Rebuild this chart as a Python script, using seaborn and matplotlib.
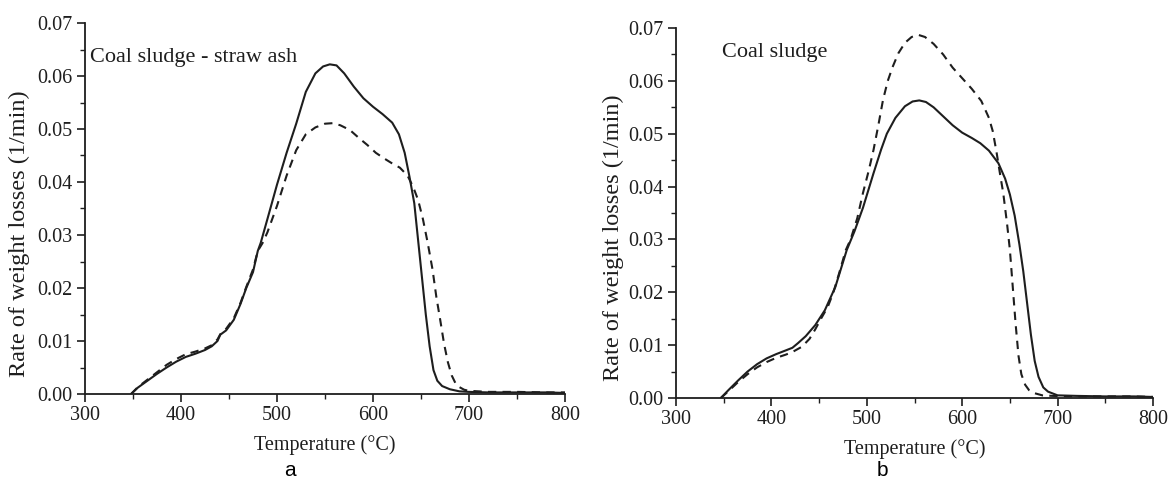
import matplotlib
matplotlib.use("Agg")
import matplotlib.pyplot as plt
import seaborn as sns
import pandas as pd
from matplotlib.ticker import MultipleLocator, FormatStrFormatter

# ---------------- data ----------------
temp_a_solid = [348, 355, 365, 375, 385, 395, 405, 415, 425, 432, 438, 441, 447, 455, 462, 468,
                475, 480, 483, 490, 500, 510, 520, 530, 540, 548, 555, 562, 570, 580, 590, 600,
                610, 620, 627, 633, 638, 643, 647, 651, 655, 659, 663, 667, 672, 680, 690, 700,
                720, 750, 780, 800]
rate_a_solid = [0.0, 0.0012, 0.0025, 0.0038, 0.0050, 0.0061, 0.0070, 0.0076, 0.0083, 0.0090, 0.0100,
                0.0112, 0.0120, 0.0140, 0.0170, 0.0200, 0.0230, 0.0270, 0.0285, 0.0330, 0.0395,
                0.0455, 0.0510, 0.0570, 0.0605, 0.0618, 0.0622, 0.0620, 0.0605, 0.0580, 0.0558,
                0.0542, 0.0528, 0.0512, 0.0490, 0.0455, 0.0410, 0.0360, 0.0290, 0.0220, 0.0150,
                0.0090, 0.0045, 0.0025, 0.0015, 0.0009, 0.0005, 0.0004, 0.0003, 0.0003, 0.0003,
                0.0002]

temp_a_dash = [348, 355, 365, 375, 385, 395, 405, 415, 425, 432, 438, 441, 447, 455, 462, 468,
               475, 480, 485, 490, 500, 510, 520, 530, 540, 550, 558, 566, 576, 586, 594, 603,
               612, 620, 628, 636, 642, 647, 652, 657, 662, 666, 670, 674, 678, 682, 686, 690,
               695, 700, 720, 750, 780, 800]
rate_a_dash = [0.0, 0.0013, 0.0027, 0.0041, 0.0055, 0.0066, 0.0075, 0.0080, 0.0086, 0.0092, 0.0103,
               0.0113, 0.0123, 0.0143, 0.0172, 0.0202, 0.0235, 0.0270, 0.0285, 0.0305, 0.0355,
               0.0412, 0.0460, 0.0490, 0.0503, 0.0510, 0.0511, 0.0507, 0.0498, 0.0482, 0.0470,
               0.0455, 0.0444, 0.0435, 0.0427, 0.0412, 0.0390, 0.0366, 0.0330, 0.0285, 0.0235,
               0.0183, 0.0140, 0.0095, 0.0060, 0.0035, 0.0020, 0.0013, 0.0008, 0.0006, 0.0004,
               0.0004, 0.0003, 0.0003]

temp_b_solid = [347, 355, 365, 375, 385, 395, 405, 415, 422, 428, 436, 446, 456, 467, 479, 487,
                496, 507, 515, 521, 530, 540, 548, 555, 562, 570, 580, 590, 600, 610, 619, 628,
                638, 645, 650, 655, 660, 664, 668, 672, 676, 680, 685, 690, 700, 720, 750, 780,
                800]
rate_b_solid = [0.0, 0.0015, 0.0033, 0.0050, 0.0064, 0.0075, 0.0083, 0.0090, 0.0095, 0.0104, 0.0117,
                0.0138, 0.0166, 0.0210, 0.0280, 0.0315, 0.0360, 0.0425, 0.0470, 0.0500, 0.0530,
                0.0552, 0.0561, 0.0563, 0.0560, 0.0550, 0.0533, 0.0516, 0.0502, 0.0492, 0.0482,
                0.0468, 0.0444, 0.0415, 0.0385, 0.0345, 0.0290, 0.0240, 0.0180, 0.0120, 0.0070,
                0.0040, 0.0020, 0.0012, 0.0005, 0.0004, 0.0003, 0.0003, 0.0002]

temp_b_dash = [347, 355, 365, 375, 385, 395, 405, 415, 422, 432, 440, 446, 452, 459, 465, 471,
               478, 483, 490, 496, 502, 507, 512, 517, 522, 527, 533, 540, 547, 554, 561, 570,
               580, 590, 600, 610, 620, 628, 632, 636, 640, 643, 647, 650, 653, 656, 659, 662,
               666, 670, 676, 684, 695, 720, 750, 780, 800]
rate_b_dash = [0.0, 0.0013, 0.0030, 0.0045, 0.0058, 0.0068, 0.0076, 0.0082, 0.0087, 0.0097, 0.0112,
               0.0130, 0.0150, 0.0172, 0.0200, 0.0236, 0.0280, 0.0300, 0.0340, 0.0388, 0.0430,
               0.0469, 0.0515, 0.0564, 0.0600, 0.0626, 0.0652, 0.0672, 0.0683, 0.0687, 0.0683,
               0.0670, 0.0650, 0.0625, 0.0605, 0.0585, 0.0562, 0.0530, 0.0505, 0.0465, 0.0420,
               0.0388, 0.0330, 0.0280, 0.0210, 0.0140, 0.0080, 0.0045, 0.0025, 0.0015, 0.0009,
               0.0005, 0.0004, 0.0003, 0.0003, 0.0003, 0.0002]

panel_titles = ["Coal sludge - straw ash", "Coal sludge"]
panel_letters = ["a", "b"]
x_label = "Temperature (\u00b0C)"
y_label = "Rate of weight losses (1/min)"

# ---------------- style ----------------
sns.set_theme(style="ticks")
plt.rcParams["font.family"] = ["Liberation Serif", "DejaVu Serif"]
plt.rcParams["axes.linewidth"] = 1.3
plt.rcParams["xtick.major.width"] = 1.2
plt.rcParams["ytick.major.width"] = 1.2
plt.rcParams["xtick.minor.width"] = 1.0
plt.rcParams["ytick.minor.width"] = 1.0

ink = "#1e1e1e"
fig = plt.figure(figsize=(11.69, 4.88), dpi=100)
W, H = 1169, 488
boxes = [(85, 565, 23, 394), (676, 1153, 28, 398)]
data = [(temp_a_solid, rate_a_solid, temp_a_dash, rate_a_dash),
        (temp_b_solid, rate_b_solid, temp_b_dash, rate_b_dash)]
text_pos = [(305, 0.0634), (348, 0.0653)]
letter_x = [290, 882]
ylab_x = [-0.115, -0.108]

for i, (box, d) in enumerate(zip(boxes, data)):
    x0, x1, yt, yb = box
    ax = fig.add_axes([x0 / W, 1 - yb / H, (x1 - x0) / W, (yb - yt) / H])
    ts, rs, td, rd = d
    sns.lineplot(x=ts, y=rs, ax=ax, color=ink, lw=1.5, estimator=None, sort=False)
    sns.lineplot(x=td, y=rd, ax=ax, color=ink, lw=1.5, estimator=None, sort=False,
                 linestyle=(0, (4, 3)))
    ax.set_xlim(300, 800)
    ax.set_ylim(0, 0.07)
    ax.xaxis.set_major_locator(MultipleLocator(100))
    ax.xaxis.set_minor_locator(MultipleLocator(50))
    ax.yaxis.set_major_locator(MultipleLocator(0.01))
    ax.yaxis.set_minor_locator(MultipleLocator(0.005))
    ax.yaxis.set_major_formatter(FormatStrFormatter("%.2f"))
    ax.tick_params(which="major", length=6, labelsize=14.5, colors=ink, pad=3)
    ax.tick_params(which="minor", length=3.5, colors=ink)
    for s in ["top", "right"]:
        ax.spines[s].set_visible(False)
    for s in ["left", "bottom"]:
        ax.spines[s].set_color(ink)
    ax.set_xlabel(x_label, fontsize=14.5, color=ink)
    ax.set_ylabel(y_label, fontsize=17.5, color=ink)
    ax.xaxis.set_label_coords(0.5, -0.11)
    ax.yaxis.set_label_coords(ylab_x[i], 0.432)
    ax.text(text_pos[i][0], text_pos[i][1], panel_titles[i], fontsize=16, va="center",
            ha="left", color=ink)
    fig.text(letter_x[i] / W, 1 - 470 / H, panel_letters[i], fontsize=15, ha="center",
             va="center", family=["Liberation Sans", "DejaVu Sans"], color="black")

fig.savefig("out.png", dpi=100)
